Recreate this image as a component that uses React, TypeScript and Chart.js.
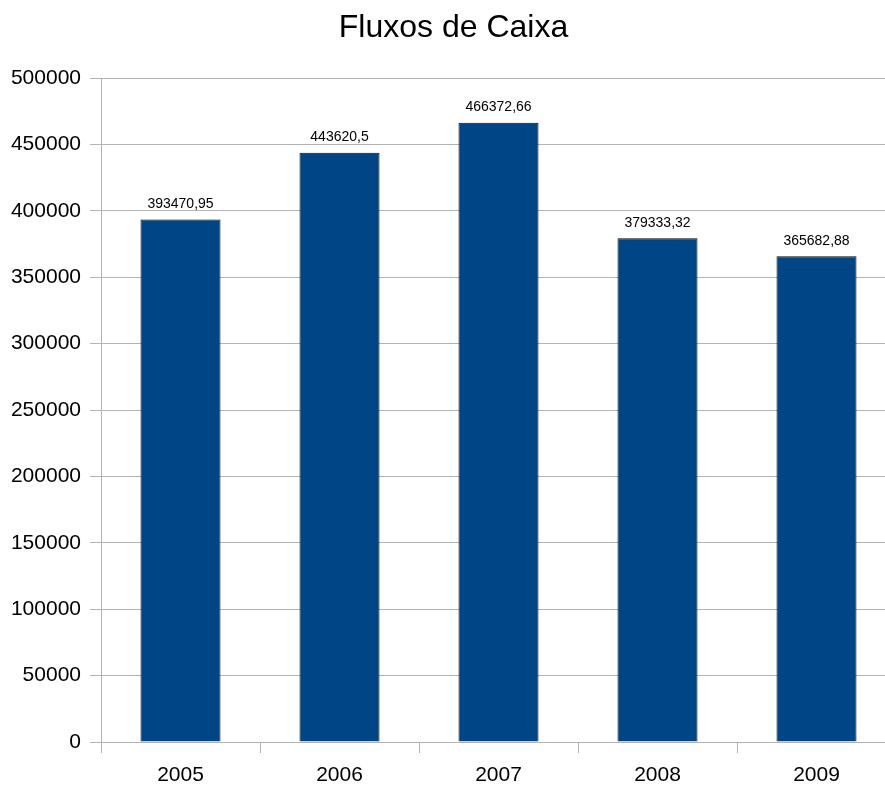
import React, { useEffect, useRef } from "react";
import { Chart, registerables } from "chart.js";

Chart.register(...registerables);

const TITLE = "Fluxos de Caixa";
const categories = ["2005", "2006", "2007", "2008", "2009"];
const values = [393470.95, 443620.5, 466372.66, 379333.32, 365682.88];
const valueLabels = ["393470,95", "443620,5", "466372,66", "379333,32", "365682,88"];
const yMin = 0;
const yMax = 500000;
const yStep = 50000;

const FONT = "'Liberation Sans', Arial, Helvetica, sans-serif";
const GRID = "#b3b3b3";

const titlePlugin = {
  id: "customTitle",
  afterDraw(chart: any) {
    const ctx = chart.ctx;
    ctx.save();
    ctx.font = `32px ${FONT}`;
    ctx.fillStyle = "#000";
    ctx.textAlign = "center";
    ctx.textBaseline = "alphabetic";
    ctx.fillText(TITLE, 453.5, 37);
    ctx.restore();
  },
};

const valueLabelPlugin = {
  id: "valueLabels",
  afterDatasetsDraw(chart: any) {
    const ctx = chart.ctx;
    const meta = chart.getDatasetMeta(0);
    ctx.save();
    ctx.font = `14px ${FONT}`;
    ctx.fillStyle = "#000";
    ctx.textAlign = "center";
    ctx.textBaseline = "alphabetic";
    meta.data.forEach((bar: any, i: number) => {
      ctx.fillText(valueLabels[i], bar.x, bar.y - 11.5);
    });
    ctx.restore();
  },
};

export default function App() {
  const ref = useRef<HTMLCanvasElement | null>(null);

  useEffect(() => {
    if (!ref.current) return;
    const chart = new Chart(ref.current, {
      type: "bar",
      data: {
        labels: categories,
        datasets: [
          {
            data: values,
            backgroundColor: "#004586",
            borderColor: "#0a0a0a",
            borderWidth: 1,
            barPercentage: 80 / 159,
            categoryPercentage: 1,
          },
        ],
      },
      options: {
        responsive: false,
        animation: false,
        layout: { padding: { top: 78, right: 12, left: 0, bottom: 0 } },
        plugins: {
          legend: { display: false },
          title: { display: false },
          tooltip: { enabled: false },
        },
        scales: {
          x: {
            grid: {
              display: true,
              offset: true,
              drawOnChartArea: false,
              drawTicks: true,
              tickLength: 11,
              color: GRID,
            },
            border: { display: true, color: GRID },
            ticks: {
              color: "#000",
              font: { family: FONT, size: 21 },
              padding: 10,
            },
            afterFit(scale: any) {
              scale.height = 43;
            },
          },
          y: {
            min: yMin,
            max: yMax,
            grid: {
              color: GRID,
              tickLength: 11,
              drawTicks: true,
            },
            border: { display: true, color: GRID },
            ticks: {
              stepSize: yStep,
              color: "#000",
              font: { family: FONT, size: 21 },
              padding: 9,
              callback: (v: any) => String(v),
            },
            afterFit(scale: any) {
              scale.width = 101;
            },
          },
        },
      },
      plugins: [titlePlugin, valueLabelPlugin],
    });
    return () => chart.destroy();
  }, []);

  return (
    <div
      style={{
        position: "fixed",
        left: 0,
        top: 0,
        width: 885,
        height: 785,
        overflow: "hidden",
        background: "#fff",
      }}
    >
      <canvas ref={ref} width={908} height={785} style={{ width: 908, height: 785, display: "block" }} />
    </div>
  );
}
